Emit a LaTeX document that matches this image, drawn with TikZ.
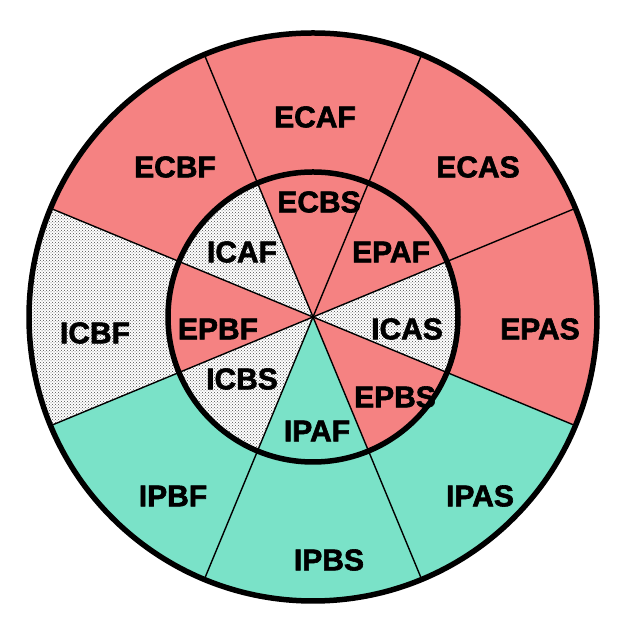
\documentclass[tikz,border=0pt]{standalone}
\usepackage{fontspec}
\setmainfont{Liberation Sans}[BoldFeatures={FakeBold=2}]
\usetikzlibrary{patterns,calc}
\definecolor{pinkc}{RGB}{245,130,130}
\definecolor{tealc}{RGB}{122,226,200}
\tikzset{
  lbl/.style={font=\fontsize{30}{30}\selectfont\bfseries, inner sep=0pt},
  pinkw/.style={fill=pinkc},
  tealw/.style={fill=tealc},
  whitew/.style={fill=white, postaction={pattern=crosshatch dots, pattern color=black!70}},
  spoke/.style={draw=black, line width=1.4pt},
  ring/.style={draw=black, line width=5.5pt},
}
\newcommand{\wedgeat}[3]{% style, center angle, radius
  \path[#1] (313,314) -- ++(#2-22.5:#3) arc[start angle=#2-22.5, end angle=#2+22.5, radius=#3] -- cycle;}
\begin{document}
\begin{tikzpicture}[x=1pt,y=1pt]
\useasboundingbox (0,0) rectangle (633,631);
\fill[white] (0,0) rectangle (633,631);
\coordinate (C) at (313,314);
% outer ring wedges
\wedgeat{pinkw}{90}{284}
\wedgeat{pinkw}{45}{284}
\wedgeat{pinkw}{0}{284}
\wedgeat{tealw}{-45}{284}
\wedgeat{tealw}{-90}{284}
\wedgeat{tealw}{-135}{284}
\wedgeat{whitew}{180}{284}
\wedgeat{pinkw}{135}{284}
% inner wedges
\wedgeat{pinkw}{90}{145}
\wedgeat{pinkw}{45}{145}
\wedgeat{whitew}{0}{145}
\wedgeat{pinkw}{-45}{145}
\wedgeat{tealw}{-90}{145}
\wedgeat{whitew}{-135}{145}
\wedgeat{pinkw}{180}{145}
\wedgeat{whitew}{135}{145}
% spokes
\foreach \a in {22.5,67.5,112.5,157.5}{
  \draw[spoke] ($(C)+(\a:284)$) -- ($(C)+(\a+180:284)$);
}
% rings
\draw[ring] (C) circle[radius=284];
\draw[ring] (C) circle[radius=145];
% labels
\node[lbl] (ECAF) at (315,514) {ECAF};
\node[lbl] (ECAS) at (478,464) {ECAS};
\node[lbl] (EPAS) at (540,302) {EPAS};
\node[lbl] (IPAS) at (480,135) {IPAS};
\node[lbl] (IPBS) at (329,71) {IPBS};
\node[lbl] (IPBF) at (173,135) {IPBF};
\node[lbl] (ICBF) at (95,298) {ICBF};
\node[lbl] (ECBF) at (175,464) {ECBF};
\node[lbl] (ECBS) at (319,429) {ECBS};
\node[lbl] (EPAF) at (391,379) {EPAF};
\node[lbl] (ICAS) at (407,302) {ICAS};
\node[lbl] (EPBS) at (395,234) {EPBS};
\node[lbl] (IPAF) at (317,200) {IPAF};
\node[lbl] (ICBS) at (242,252) {ICBS};
\node[lbl] (EPBF) at (218,302) {EPBF};
\node[lbl] (ICAF) at (242,379) {ICAF};
\end{tikzpicture}
\end{document}
